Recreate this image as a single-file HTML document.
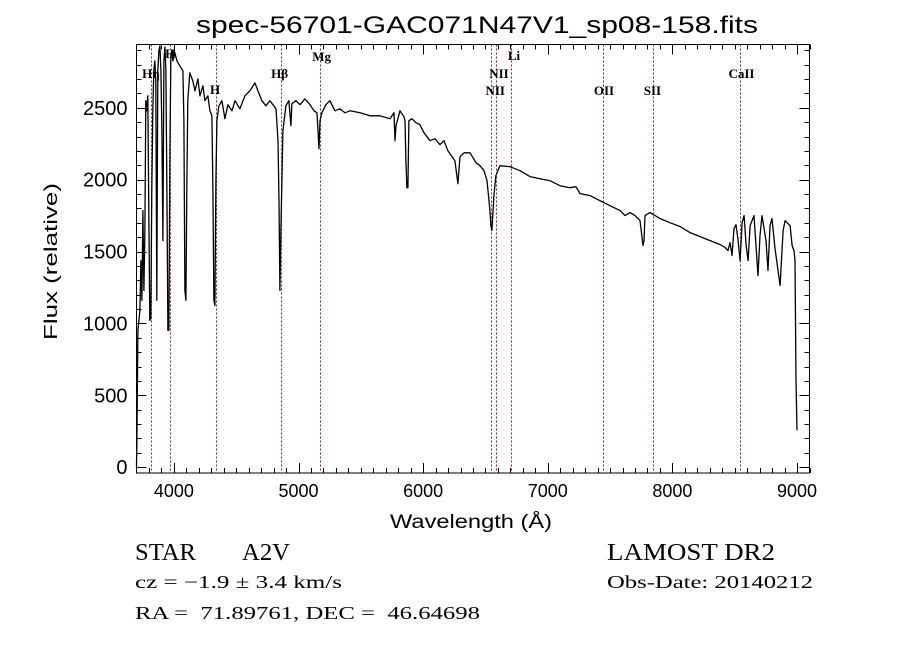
<!DOCTYPE html>
<html><head><meta charset="utf-8"><style>
html,body{margin:0;padding:0;background:#fff;}
svg{display:block;font-family:"Liberation Sans",sans-serif;}
text{white-space:pre;}
</style></head><body>
<svg id="chart" width="900" height="649" viewBox="0 0 900 649" xmlns="http://www.w3.org/2000/svg">
<rect x="0" y="0" width="900" height="649" fill="#fff"/>
<text x="196" y="33" font-size="24" textLength="562" lengthAdjust="spacingAndGlyphs">spec-56701-GAC071N47V1_sp08-158.fits</text>
<g id="lines"></g>
<g id="ticks"></g>
<path id="spec" fill="none" stroke="#000" stroke-width="1.3" stroke-linejoin="round"/>
<rect x="136.5" y="44.5" width="673" height="428.5" fill="none" stroke="#000" stroke-width="1"/>
<text x="390" y="528" font-size="19" textLength="162" lengthAdjust="spacingAndGlyphs">Wavelength (Å)</text>
<text x="0" y="0" font-size="18" textLength="157" lengthAdjust="spacingAndGlyphs" transform="translate(57,340) rotate(-90)">Flux (relative)</text>
<text x="135" y="560" font-size="24" font-family="Liberation Serif" textLength="61" lengthAdjust="spacingAndGlyphs">STAR</text>
<text x="242" y="560" font-size="24" font-family="Liberation Serif" textLength="48" lengthAdjust="spacingAndGlyphs">A2V</text>
<text x="135" y="588" font-size="18" font-family="Liberation Serif" textLength="207" lengthAdjust="spacingAndGlyphs">cz = −1.9 ± 3.4 km/s</text>
<text x="135" y="619" font-size="18" font-family="Liberation Serif" textLength="345" lengthAdjust="spacingAndGlyphs">RA =&#160;&#160;71.89761, DEC =&#160;&#160;46.64698</text>
<text x="607" y="560" font-size="24" font-family="Liberation Serif" textLength="168" lengthAdjust="spacingAndGlyphs">LAMOST DR2</text>
<text x="607" y="588" font-size="18" font-family="Liberation Serif" textLength="206" lengthAdjust="spacingAndGlyphs">Obs-Date: 20140212</text>
</svg>
<script>
const wavelengths=[3700,3703,3711,3727,3735,3743,3751,3759,3767,3775,3783,3791,3799,3807,3815,3823,3831,3839,3847,3855,3863,3871,3880,3888,3896,3904,3912,3920,3928,3936,3944,3952,3960,3968,3976,3984,3992,4008,4024,4048,4072,4080,4088,4096,4104,4112,4128,4152,4169,4193,4209,4233,4249,4273,4289,4305,4313,4321,4329,4337,4345,4361,4385,4409,4433,4466,4490,4530,4570,4610,4650,4674,4706,4738,4770,4819,4835,4843,4851,4859,4875,4899,4923,4939,4947,4979,5011,5051,5092,5124,5148,5164,5172,5188,5220,5252,5292,5332,5372,5413,5493,5573,5653,5734,5766,5774,5782,5814,5846,5854,5862,5870,5878,5886,5910,5942,5974,6007,6055,6095,6135,6167,6199,6255,6279,6296,6328,6376,6424,6456,6488,6512,6528,6536,6544,6552,6568,6584,6616,6697,6777,6857,6938,7018,7098,7178,7226,7259,7339,7419,7499,7580,7620,7660,7700,7740,7764,7772,7780,7820,7901,7981,8061,8141,8222,8302,8382,8422,8446,8462,8478,8494,8510,8527,8543,8559,8575,8591,8607,8623,8655,8671,8687,8703,8719,8751,8767,8783,8799,8823,8864,8888,8904,8920,8944,8960,8976,8984,8992,9000];
const fluxes=[0,187,951,1090,1437,1160,1785,1229,1646,2549,2479,2583,1785,1021,1035,1924,2479,2757,2826,2687,1160,2757,2896,2930,2757,2340,1576,2826,2923,2757,1924,951,951,2201,2861,2896,2826,2882,2826,2791,2757,2410,1229,1160,1993,2549,2743,2687,2618,2701,2583,2653,2549,2583,2479,2444,1924,1160,1125,1993,2410,2514,2549,2424,2521,2479,2549,2493,2583,2618,2673,2618,2549,2514,2549,2493,2271,1854,1229,1646,2340,2514,2549,2375,2528,2549,2521,2562,2521,2479,2465,2215,2410,2465,2521,2549,2479,2493,2465,2479,2465,2444,2444,2424,2465,2271,2375,2479,2437,2410,2132,1944,1944,2410,2424,2396,2382,2326,2271,2285,2243,2271,2201,2132,1972,2160,2187,2187,2118,2097,2062,1993,1854,1785,1680,1646,1889,2028,2097,2090,2062,2021,2007,1993,1958,1944,1951,1903,1889,1854,1819,1785,1750,1771,1750,1715,1542,1576,1750,1771,1729,1701,1674,1632,1604,1576,1549,1528,1507,1562,1472,1660,1687,1576,1437,1701,1750,1542,1437,1680,1750,1542,1333,1611,1750,1576,1368,1680,1729,1521,1264,1646,1715,1701,1680,1542,1507,1437,604,257];
const xTicks=[4000,5000,6000,7000,8000,9000];
const yTicks=[0,500,1000,1500,2000,2500];
const lineWaves=[3820,3968,4340,4861,5173,6548,6583,6708,7444,7844,8542];
const lineLabels=[{t:"Hη",w:3745,y:78},{t:"H",w:3930,y:58},{t:"H",w:4290,y:94},{t:"Hβ",w:4780,y:78},{t:"Mg",w:5110,y:61},{t:"NII",w:6530,y:78},{t:"NII",w:6500,y:95},{t:"Li",w:6680,y:60},{t:"OII",w:7370,y:95},{t:"SII",w:7770,y:95},{t:"CaII",w:8450,y:78}];
const X0=3700,X1=9100,Y0=-40,Y1=2940,L=136.5,R=809.5,T=44.5,B=473;
function xs(w){return L+(w-X0)/(X1-X0)*(R-L);}
function ys(f){return B-(f-Y0)/(Y1-Y0)*(B-T);}
const NS="http://www.w3.org/2000/svg";
let d="";
for(let i=0;i<wavelengths.length;i++){d+=(i?"L":"M")+xs(wavelengths[i]).toFixed(1)+","+ys(fluxes[i]).toFixed(1);}
document.getElementById("spec").setAttribute("d",d);
const lg=document.getElementById("lines");
lineWaves.forEach(w=>{const l=document.createElementNS(NS,"line");


const x=Math.round(xs(w))+0.5;l.setAttribute("x1",x);l.setAttribute("x2",x);l.setAttribute("y1",T);l.setAttribute("y2",B);l.setAttribute("stroke","#8b2020");l.setAttribute("stroke-dasharray","2,2");l.setAttribute("stroke-width","1");lg.appendChild(l);});
lineLabels.forEach(o=>{const t=document.createElementNS(NS,"text");


t.setAttribute("x",xs(o.w));t.setAttribute("y",o.y);t.setAttribute("font-size","13");t.setAttribute("font-family","Liberation Serif");t.setAttribute("font-weight","bold");t.textContent=o.t;lg.appendChild(t);});
const tg=document.getElementById("ticks");
function ln(x1,y1,x2,y2){const l=document.createElementNS(NS,"line");


l.setAttribute("x1",x1);l.setAttribute("y1",y1);l.setAttribute("x2",x2);l.setAttribute("y2",y2);l.setAttribute("stroke","#000");l.setAttribute("stroke-width","1");tg.appendChild(l);}
for(let w=3800;w<=9100;w+=100){const x=Math.round(xs(w))+0.5;const len=(w%1000===0)?10:5;ln(x,B,x,B-len);ln(x,T,x,T+len);}
for(let f=0;f<=2900;f+=100){const y=Math.round(ys(f))+0.5;const len=(f%500===0)?10:5;ln(L,y,L+len,y);ln(R,y,R-len,y);}
xTicks.forEach(w=>{const t=document.createElementNS(NS,"text");


t.setAttribute("x",xs(w));t.setAttribute("y",B+24);t.setAttribute("font-size","18");t.setAttribute("text-anchor","middle");t.textContent=w;tg.appendChild(t);});
yTicks.forEach(f=>{const t=document.createElementNS(NS,"text");


t.setAttribute("x",L-9);t.setAttribute("y",ys(f)+7);t.setAttribute("font-size","20");t.setAttribute("text-anchor","end");t.textContent=f;tg.appendChild(t);});
</script>
</body></html>
